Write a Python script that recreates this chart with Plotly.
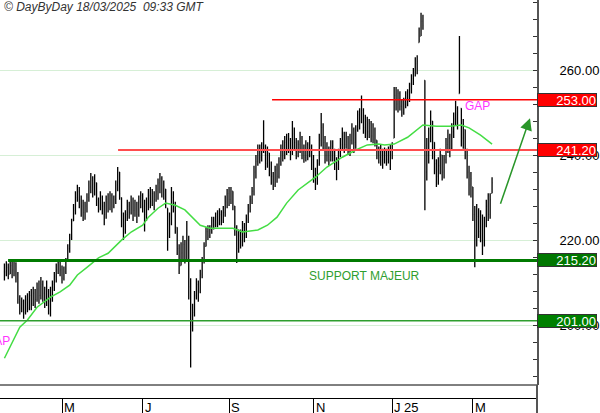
import pandas as pd
import plotly.graph_objects as go

# ---------------- data ----------------
start_date = "2024-03-18"
end_date = "2025-03-17"
holidays = ["2024-03-29", "2024-04-01", "2024-05-01", "2024-12-25", "2024-12-26", "2025-01-01"]

close = [
    212.5, 213.5, 212, 214, 213, 214.5, 212, 206, 204, 205.5,
    203, 206, 204, 207, 205, 207.5, 206, 208.5, 207, 209.5,
    207.5, 206, 208, 205.5, 207, 209.5, 211.5, 213, 214.8, 213,
    211, 212.5, 215, 218, 220.5, 224, 227, 230, 231.5, 229.5,
    228, 226.5, 228, 230, 232.5, 234, 231, 233.5, 229.5, 227.5,
    230, 228, 226, 229, 227.5, 230.5, 228, 229.5, 233, 236,
    231, 225, 222.5, 226, 228, 226.5, 229.5, 227, 228.5, 226,
    229, 230.5, 228, 226, 228.5, 230.5, 229, 231, 229.5, 231.5,
    233.5, 234.5, 232, 233, 229, 221, 224, 230, 228.5, 224,
    218, 214, 217, 219, 216, 220, 209, 201, 203, 207,
    209.5, 208, 212, 215, 218.5, 222, 221, 222.5, 224.5, 223.5,
    225.5, 224, 226, 224.5, 226.5, 229, 231, 229.5, 231.5, 228.5,
    223, 218, 221, 219.5, 223, 221.5, 225, 227.5, 229.5, 231.5,
    236, 238.5, 241, 239.5, 241.5, 242, 238, 240.5, 236.5, 235,
    233, 236.5, 235, 238.5, 241.5, 240, 243, 241.5, 243.5, 240.5,
    245, 243, 240.5, 242.5, 244, 241, 239.5, 242.5, 240, 242,
    239, 236, 234.5, 238, 243.5, 246.5, 243, 240, 241.5, 239,
    242, 240.5, 238, 237, 240.5, 242.5, 245, 242.5, 244, 241.5,
    243.5, 246, 243, 246, 249.5, 248, 250.5, 246.5, 248, 245.5,
    247.5, 244.5, 246, 243.5, 241, 239.5, 241, 239, 240.5, 239,
    241, 240, 242, 254, 252, 254.5, 251.5, 250, 252, 254.5,
    253, 256, 258, 259.5, 261.5, 262, 268, 271.5, 270.5, 236,
    240, 245, 249, 243, 238, 235, 237.5, 240, 236, 239,
    242.5, 244, 241.5, 245.5, 248.5, 251, 247.5, 256, 244, 247,
    241, 236, 233, 234.5, 226, 221, 225.5, 222, 225, 219.5,
    224, 228, 226, 229.5, 233.5,
]
high = [
    214.5, 215, 214.5, 215.3, 215, 215.3, 214.8, 212.5, 207, 206.5,
    206, 207, 207.5, 208, 208.5, 209, 208.5, 210, 210.5, 211.3,
    210.5, 209, 210.5, 208.5, 209, 210.5, 212.5, 214.5, 215.5, 215.3,
    214, 213.8, 215.8, 219, 221.5, 225, 228.5, 231.5, 233, 232.5,
    230.5, 229.5, 229, 231, 234, 235.8, 235, 235.5, 233.5, 230,
    231.5, 230.5, 229, 230.5, 231, 231.5, 231, 230.5, 234, 237.2,
    236, 230, 226.5, 227, 229.5, 229, 230.5, 230, 229.5, 229,
    230.5, 231.5, 231, 229.5, 230, 232, 232.5, 232, 231.5, 233,
    234.5, 235.8, 235, 234, 232, 227.5, 226.5, 232.5, 231.5, 229,
    223, 219, 219.5, 221, 220, 224.5, 221, 211, 205, 208,
    211, 210.5, 213, 216, 219.5, 223, 223.5, 223.5, 225.5, 225.5,
    226.5, 227, 227.5, 227, 228, 230.5, 232, 232.5, 232.5, 231.5,
    228, 223.5, 222.5, 222.5, 224.5, 224, 226, 228.5, 230.5, 232.5,
    237.5, 240, 242.5, 242.5, 243, 248.2, 242.5, 242, 240.5, 238.5,
    236, 237.5, 238, 239.5, 242.5, 243.5, 244.5, 245, 245.2, 244,
    248, 246.5, 244, 243.5, 245.5, 244.5, 242.5, 243.5, 243, 244.5,
    242.5, 240, 237, 239, 245, 249.9, 247.5, 244.5, 243, 242,
    243.5, 243.5, 241.5, 239.5, 241.5, 244, 246.5, 245.5, 245.5, 244.5,
    245, 247.5, 246.5, 247, 250.5, 251, 254, 251, 249.5, 249,
    248.5, 248, 247.5, 246.5, 243.5, 242, 242.5, 241.5, 241.8, 241.5,
    242, 242.5, 243, 256, 256, 255.5, 255, 253, 253.5, 255,
    255.5, 257, 259, 260.5, 263, 263.5, 270, 273.5, 273, 257.6,
    244, 246.5, 250.5, 248, 243, 239, 239.5, 241.5, 240, 240,
    244, 246, 245, 247.5, 250, 252.8, 251.5, 268, 251, 248.5,
    246, 241.5, 237.5, 236, 232.5, 228, 228.5, 227.5, 227, 226,
    225.5, 229.5, 231, 231, 234.8,
]
low = [
    210.5, 211.5, 210.8, 212, 211, 211.5, 210, 205, 202.5, 203,
    201.5, 202.5, 203, 203.5, 203.5, 204.5, 204, 205.5, 205, 206,
    205.5, 204, 204.5, 202.5, 202, 205.5, 208, 210, 212, 211.5,
    209.8, 210.5, 212, 215, 217, 220, 224.5, 226, 229, 227.5,
    225.5, 224.5, 224.8, 226.5, 229, 231, 230, 230.5, 228, 226.5,
    227, 226, 223.5, 225, 226.5, 227, 226.5, 227.5, 228.5, 231.5,
    229.5, 223, 220, 221.5, 224.5, 225, 226, 224.5, 225.5, 224,
    225.5, 227.5, 226.5, 222, 224.5, 227, 227.5, 228, 227, 229,
    229.5, 231, 230, 229.5, 227.5, 217.5, 220.5, 223.5, 226.5, 221.5,
    216.5, 212, 214, 215.5, 214.5, 215, 206, 190, 198.5, 202,
    206, 205.5, 207.5, 211, 214.5, 218.5, 220, 220.5, 221.5, 222.5,
    223, 223, 223.5, 223.5, 224, 225.5, 227.5, 228, 228.5, 227,
    221, 214.6, 217, 218, 218.5, 219.5, 220.5, 224, 226.5, 228.5,
    230.5, 234.5, 237.5, 238, 238.5, 240.5, 236.5, 237, 235, 233,
    231.8, 232.5, 233.5, 234.5, 237.5, 238.5, 239, 240, 240.5, 238.8,
    240, 241, 239, 239.5, 240.5, 239, 238.2, 238.5, 238.8, 239.5,
    236.5, 233.5, 231.8, 233, 237.5, 242, 241, 238, 238.5, 237.5,
    238.5, 238.5, 236.5, 234.1, 236.5, 239.5, 241, 240.5, 241.5, 240,
    239.8, 242.5, 240.5, 241.5, 245.5, 246, 247.5, 245, 244, 243.5,
    244, 243, 242.8, 242, 239, 238, 237.5, 236.8, 238, 237.5,
    238, 236.5, 239, 244, 250.5, 250, 250.5, 249, 249.5, 251,
    251.5, 252.5, 254.5, 256.5, 258.5, 259, 266.5, 268, 269.5, 227,
    234, 238, 243, 239, 235.5, 232.5, 233, 235.5, 234, 234.5,
    238, 240.5, 239.5, 241, 244, 247, 246, 254.5, 242, 241.5,
    239, 234.5, 230.5, 230, 224.5, 213.6, 218.5, 220.5, 219.5, 216.5,
    218.5, 223, 224.5, 225, 231,
]

# moving average, bar index -> value
ma_idx = [0, 3, 8, 12, 17, 24, 29, 34, 38, 43, 49, 54, 61, 66, 72, 75, 80, 84,
          89, 94, 99, 102, 107, 114, 119, 124, 132, 137, 142, 147, 153, 162,
          168, 176, 183, 189, 195, 198, 203, 210, 215, 218, 225, 232, 238, 242,
          248, 254]
ma_val = [192.2, 194.8, 199.5, 201.2, 204.2, 206.6, 207.8, 209.4, 211.8, 213.6,
          215.8, 216.9, 220.0, 221.9, 223.5, 225.4, 227.5, 228.7, 228.2, 227.1,
          224.7, 223.5, 222.8, 222.8, 222.8, 221.9, 222.4, 223.5, 225.4, 228.7,
          231.8, 234.8, 237.2, 239.5, 241.2, 242.4, 242.6, 242.4, 242.6, 244.2,
          245.9, 247.1, 246.8, 246.8, 247.1, 246.4, 244.7, 242.6]

level_gap = 253.00
level_resist = 241.20
level_support = 215.20
level_low = 201.00

y_tick_vals = [200, 220, 240, 260]
tick_months = ["2024-05", "2024-07", "2024-09", "2024-11", "2025-01", "2025-03"]
tick_labels = ["M", "J", "S", "N", "J 25", "M"]

watermark = "© DayByDay 18/03/2025\u00a0\u00a009:33 GMT"

# ---------------- build ----------------
dates = pd.bdate_range(start_date, end_date)
dates = dates[~dates.isin(pd.to_datetime(holidays))]
n = len(close)
dates = dates[:n]
idx = list(range(n))
opens = [close[0]] + [min(max(close[i - 1], low[i]), high[i]) for i in range(1, n)]

month_keys = [d.strftime("%Y-%m") for d in dates]
tick_idx = [month_keys.index(m) for m in tick_months]

X0, X1 = -2.3, 277.4
Y0, Y1 = 185.9, 276.5
PANEL = 13 / 398
FONT = "Liberation Sans, Arial, sans-serif"

fig = go.Figure()
fig.add_trace(go.Ohlc(
    x=idx, open=opens, high=high, low=low, close=close,
    increasing=dict(line=dict(color="#000000", width=1.3)),
    decreasing=dict(line=dict(color="#000000", width=1.3)),
    tickwidth=0.35, hoverinfo="skip",
))
fig.add_trace(go.Scatter(
    x=ma_idx, y=ma_val, mode="lines",
    line=dict(color="#44dd44", width=1.5), hoverinfo="skip",
))

fig.update_layout(
    template="none",
    width=600, height=413,
    margin=dict(l=0, r=63, t=0, b=15),
    paper_bgcolor="white", plot_bgcolor="white",
    showlegend=False,
    font=dict(family=FONT, size=13, color="black"),
)
fig.update_xaxes(
    range=[X0, X1], rangeslider_visible=False, showgrid=False, zeroline=False,
    anchor="free", position=0, showline=True, linecolor="black", linewidth=1,
    ticks="outside", ticklen=15, tickcolor="black", tickwidth=1,
    tickvals=tick_idx, showticklabels=False, automargin=False,
)
fig.update_yaxes(
    domain=[PANEL, 1], range=[Y0, Y1], side="right",
    showline=True, linecolor="#555555", linewidth=2,
    ticks="inside", ticklen=4, tickcolor="#333333", tickwidth=1,
    tickvals=y_tick_vals, ticktext=[f"{v:.2f}" for v in y_tick_vals],
    tickfont=dict(family=FONT, size=13, color="black"),
    ticklabelstandoff=18,
    showgrid=True, gridcolor="#d6efd6", gridwidth=1, zeroline=False,
    minor=dict(dtick=4, tick0=0, ticks="inside", ticklen=4, tickcolor="#333333", showgrid=False),
    automargin=False,
)

shapes = [
    dict(type="line", xref="paper", yref="paper", x0=0, x1=1, y0=PANEL, y1=PANEL,
         line=dict(color="black", width=1)),
    dict(type="line", xref="paper", yref="paper", x0=1, x1=1, y0=-15 / 398, y1=PANEL,
         line=dict(color="#555555", width=2)),
    dict(type="line", xref="x", yref="y", x0=139.4, x1=X1, y0=level_gap, y1=level_gap,
         line=dict(color="#ff0000", width=1.5)),
    dict(type="line", xref="x", yref="y", x0=59.2, x1=X1, y0=level_resist, y1=level_resist,
         line=dict(color="#ff4d4d", width=2)),
    dict(type="line", xref="x", yref="y", x0=1.9, x1=X1, y0=level_support, y1=level_support,
         line=dict(color="#007a00", width=3)),
    dict(type="line", xref="x", yref="y", x0=X0, x1=X1, y0=level_low, y1=level_low,
         line=dict(color="#2e9e2e", width=1.5)),
]
fig.update_layout(shapes=shapes)

ann = []
for lvl, col in [(level_gap, "#ff0000"), (level_resist, "#ff0000"),
                 (level_support, "#007700"), (level_low, "#008000")]:
    ann.append(dict(xref="paper", x=1, xanchor="left", yref="y", y=lvl, yanchor="middle",
                    text=f"{lvl:.2f}", showarrow=False, bgcolor=col, bordercolor="#333333",
                    borderwidth=1, borderpad=0, width=58, height=12, align="right",
                    font=dict(family=FONT, size=13, color="white")))
for t, lab in zip(tick_idx, tick_labels):
    ann.append(dict(xref="x", x=t, xanchor="left", yref="paper", y=0, yanchor="top",
                    yshift=0, text=lab, showarrow=False,
                    font=dict(family=FONT, size=13, color="black")))
ann.append(dict(xref="paper", x=0, xanchor="left", xshift=2, yref="paper", y=1, yanchor="top",
                yshift=2, text=watermark, showarrow=False,
                font=dict(family=FONT, size=12, color="#333333", style="italic")))
ann.append(dict(xref="x", x=187.3, yref="y", y=211.5, text="SUPPORT MAJEUR", showarrow=False,
                font=dict(family=FONT, size=12, color="#2e9e2e")))
ann.append(dict(xref="x", x=246.4, yref="y", y=251.5, text="GAP", showarrow=False,
                font=dict(family=FONT, size=12, color="#ff33ff")))
ann.append(dict(xref="x", x=3.96, xanchor="right", yref="y", y=196.3, text="GAP", showarrow=False,
                font=dict(family=FONT, size=12, color="#ff33ff")))
ann.append(dict(xref="x", x=273.75, yref="y", y=248.7, axref="x", ax=258.1, ayref="y", ay=228.2,
                text="", showarrow=True, arrowhead=2, arrowsize=1.6, arrowwidth=1.5,
                arrowcolor="#2a962a"))
fig.update_layout(annotations=ann)

fig.write_html(
    "out.html",
    config={"displayModeBar": False, "staticPlot": True},
    post_script="document.body.style.margin='0';document.body.style.overflow='hidden';",
)
